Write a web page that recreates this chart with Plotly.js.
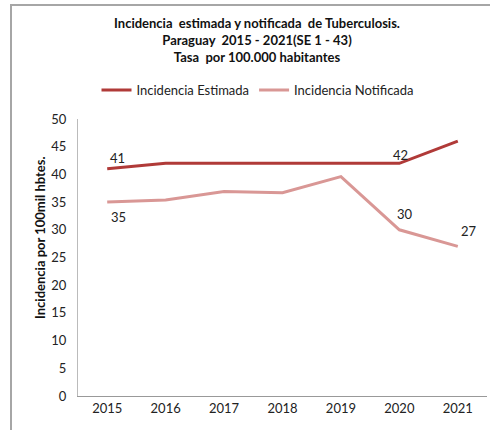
<!DOCTYPE html>
<html>
<head>
<meta charset="utf-8">
<script src="https://cdn.plot.ly/plotly-3.0.1.min.js"></script>
<style>html,body{margin:0;padding:0;background:#fff}#chart{width:490px;height:430px}</style>
</head>
<body>
<div id="chart"></div>
<script>
const years = ['2015', '2016', '2017', '2018', '2019', '2020', '2021'];
const estimada = [41, 42, 42, 42, 42, 42, 46];
const notificada = [35, 35.4, 36.9, 36.7, 39.6, 30, 27];
const estimadaLabels = ['41', '', '', '', '', '42', ''];
const notificadaLabels = ['35', '', '', '', '', '30', '27'];
const seriesNames = ['Incidencia Estimada', 'Incidencia Notificada'];
const yTitle = 'Incidencia por 100mil hbtes.';
const titleText = 'Incidencia  estimada y notificada  de Tuberculosis.<br>Paraguay  2015 - 2021(SE 1 - 43)<br>Tasa  por 100.000 habitantes';

const FONT = 'Lato, "Open Sans", sans-serif';
const c1 = '#B03A38', c2 = '#D99795';

const traces = [
  {x: years, y: estimada, name: seriesNames[0], type: 'scatter', mode: 'lines',
   line: {color: c1, width: 3}},
  {x: years, y: notificada, name: seriesNames[1], type: 'scatter', mode: 'lines',
   line: {color: c2, width: 3}}
];

const ann = [];
const estOff = {0: [10, 11], 5: [1, 8]};
const notOff = {0: [11, -15], 5: [6, 16], 6: [11, 15]};
estimadaLabels.forEach((t, i) => {
  if (t) ann.push({xref: 'x', yref: 'y', x: i, y: estimada[i], text: t, showarrow: false,
    xshift: estOff[i][0], yshift: estOff[i][1], font: {family: FONT, size: 13, color: '#222'}});
});
notificadaLabels.forEach((t, i) => {
  if (t) ann.push({xref: 'x', yref: 'y', x: i, y: notificada[i], text: t, showarrow: false,
    xshift: notOff[i][0], yshift: notOff[i][1], font: {family: FONT, size: 13, color: '#222'}});
});
ann.push({xref: 'paper', yref: 'paper', x: (40 - 78) / 409, y: (396 - 238) / 277,
  text: '<b>' + yTitle + '</b>', textangle: -90, showarrow: false,
  font: {family: FONT, size: 13, color: '#111'}, xanchor: 'center', yanchor: 'middle'});

const layout = {
  width: 490, height: 430,
  margin: {l: 78, r: 3, t: 119, b: 34},
  paper_bgcolor: '#fff', plot_bgcolor: '#fff',
  font: {family: FONT, size: 13, color: '#222'},
  title: {text: '<b>' + titleText + '</b>', xref: 'container', yref: 'container',
    x: 257 / 490, y: 1 - 28 / 430, xanchor: 'center', yanchor: 'top',
    font: {family: FONT, size: 13, color: '#111'}},
  showlegend: true,
  legend: {orientation: 'h', x: (258 - 78) / 409, y: (396 - 90) / 277, xanchor: 'center', yanchor: 'middle',
    font: {family: FONT, size: 13, color: '#222'}, itemwidth: 30, tracegroupgap: 0},
  xaxis: {type: 'category', range: [-0.5, 6.5], showgrid: false, zeroline: false,
    showline: true, linecolor: '#999', linewidth: 1, ticks: '', tickfont: {family: FONT, size: 13, color: '#222'},
    fixedrange: true},
  yaxis: {range: [0, 50], dtick: 5, tick0: 0, showgrid: false, zeroline: false,
    showline: true, linecolor: '#bbb', linewidth: 1, ticks: '', ticklabelstandoff: 8,
    tickfont: {family: FONT, size: 13, color: '#222'}, fixedrange: true},
  shapes: [
    {type: 'path', xref: 'paper', yref: 'paper',
     path: 'M ' + ((11 - 78) / 409) + ' ' + ((396 - 440) / 277) + ' L ' + ((11 - 78) / 409) + ' ' + ((396 - 5) / 277) +
       ' L ' + ((495 - 78) / 409) + ' ' + ((396 - 5) / 277),
     line: {color: '#a6a6a6', width: 2}}
  ],
  annotations: ann
};

Plotly.newPlot('chart', traces, layout, {displayModeBar: false, staticPlot: true});
</script>
</body>
</html>
